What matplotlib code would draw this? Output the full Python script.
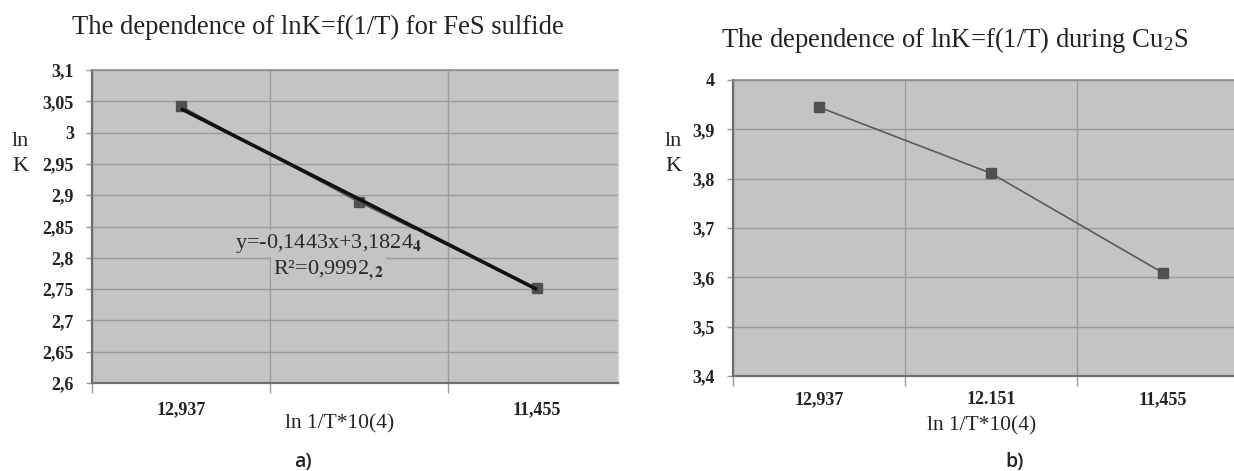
import matplotlib
matplotlib.use("Agg")
import matplotlib.pyplot as plt
from matplotlib.ticker import FixedLocator, NullFormatter

plt.rcParams["font.family"] = ["Liberation Serif", "DejaVu Serif"]
plt.rcParams["mathtext.fontset"] = "stix"

# FeS sulfide
fes_cats = ["12,937", "", "11,455"]
fes_lnk = [3.042, 2.889, 2.751]
fes_fit_slope = -0.1443
fes_fit_icpt = 3.1824
fes_yticks = [2.6, 2.65, 2.7, 2.75, 2.8, 2.85, 2.9, 2.95, 3.0, 3.05, 3.1]
fes_yticklabels = ["2,6", "2,65", "2,7", "2,75", "2,8", "2,85", "2,9", "2,95", "3", "3,05", "3,1"]

# Cu2S sulfide
cu_cats = ["12,937", "12.151", "11,455"]
cu_lnk = [3.945, 3.811, 3.609]
cu_yticks = [3.4, 3.5, 3.6, 3.7, 3.8, 3.9, 4.0]
cu_yticklabels = ["3,4", "3,5", "3,6", "3,7", "3,8", "3,9", "4"]

W, H = 1234, 471
fig = plt.figure(figsize=(W / 100, H / 100), dpi=100)

BG = "#c3c4c6"
GRID = "#9a9b9d"
AXIS = "#6e6e6e"
MARK = "#505052"
TXT = "#222222"


def px_axes(left, top, right, bottom):
    return fig.add_axes([left / W, (H - bottom) / H, (right - left) / W, (bottom - top) / H])


def style(ax, cats, yticks, ylabels, xmax, xpad):
    n = len(cats)
    ax.set_facecolor(BG)
    ax.set_xlim(0.5, xmax)
    ax.set_ylim(yticks[0], yticks[-1])
    ax.set_yticks(yticks)
    ax.set_yticklabels(ylabels, fontweight="bold", fontsize=13, color=TXT)
    pos = [i + 1 for i in range(n) if cats[i]]
    ax.xaxis.set_major_locator(FixedLocator(pos))
    ax.set_xticklabels([c for c in cats if c], fontweight="bold", fontsize=13, color=TXT)
    ax.xaxis.set_minor_locator(FixedLocator([i + 0.5 for i in range(n + 1)]))
    ax.xaxis.set_minor_formatter(NullFormatter())
    ax.tick_params(axis="x", which="major", length=0, pad=xpad)
    ax.tick_params(axis="x", which="minor", length=7, color=GRID, width=1)
    ax.tick_params(axis="y", which="major", length=4, color=GRID, width=1, pad=9)
    ax.grid(True, axis="y", which="major", color=GRID, linewidth=1)
    ax.grid(True, axis="x", which="minor", color=GRID, linewidth=1)
    ax.set_axisbelow(True)
    for s in ("left", "bottom"):
        ax.spines[s].set_color(AXIS)
        ax.spines[s].set_linewidth(1.6)
    ax.spines["top"].set_color("#8c8d8f")
    ax.spines["top"].set_linewidth(1.2)
    ax.spines["right"].set_color("#d6d7d9")
    ax.spines["right"].set_linewidth(1)


def ln_k_label(x, y_ln, y_k):
    fig.text(x / W, 1 - y_ln / H, "ln", fontsize=16, ha="center", va="center", color=TXT)
    fig.text(x / W, 1 - y_k / H, "K", fontsize=16, ha="center", va="center", color=TXT)


# ---- a) FeS ----
ax1 = px_axes(92, 70, 618, 383)
style(ax1, fes_cats, fes_yticks, fes_yticklabels, 0.5 + 526 / 178, 13)
x1 = list(range(1, len(fes_lnk) + 1))
ax1.plot(x1, fes_lnk, color="#5a5a5c", linewidth=1.2, marker="s", markersize=7,
         markerfacecolor=MARK, markeredgecolor=MARK, zorder=3)
fit_x = [x1[0], x1[-1]]
fit_y = [fes_fit_slope * v + fes_fit_icpt for v in fit_x]
ax1.plot(fit_x, fit_y, color="#111111", linewidth=2.6, zorder=6, solid_capstyle="butt")
ax1.text(1.83, 2.823, "y=-0,1443x+3,1824$_\\mathbf{4}$", fontsize=16, ha="center", va="center",
         color="#2a2a2a", zorder=5,
         bbox=dict(facecolor=BG, edgecolor="none", pad=1.5))
ax1.text(1.83, 2.780, "R²=0,9992$_\\mathbf{,2}$", fontsize=16, ha="center", va="center",
         color="#2a2a2a", zorder=5,
         bbox=dict(facecolor=BG, edgecolor="none", pad=1.5))

fig.text(318 / W, 1 - 27 / H, "The dependence of lnK=f(1/T) for FeS sulfide",
         fontsize=19.2, ha="center", va="center", color=TXT)
ln_k_label(20, 142, 167)
fig.text(340 / W, 1 - 424 / H, "ln 1/T*10(4)", fontsize=15.5, ha="center", va="center",
         color=TXT)
fig.text(303 / W, 1 - 462 / H, "a)", fontsize=14, ha="center", va="center",
         family="Open Sans", fontweight="semibold", color=TXT)

# ---- b) Cu2S ----
ax2 = px_axes(733, 80, 1249, 376)
style(ax2, cu_cats, cu_yticks, cu_yticklabels, 3.5, 11)
x2 = list(range(1, len(cu_lnk) + 1))
ax2.plot(x2, cu_lnk, color="#5a5a5c", linewidth=1.2, marker="s", markersize=7,
         markerfacecolor=MARK, markeredgecolor=MARK, zorder=3)

fig.text(955 / W, 1 - 40 / H, "The dependence of lnK=f(1/T) during Cu$_\\mathregular{2}$S",
         fontsize=19.2, ha="center", va="center", color=TXT)
ln_k_label(673, 142, 167)
fig.text(982 / W, 1 - 426 / H, "ln 1/T*10(4)", fontsize=15.5, ha="center", va="center",
         color=TXT)
fig.text(1015 / W, 1 - 462 / H, "b)", fontsize=14, ha="center", va="center",
         family="Open Sans", fontweight="semibold", color=TXT)

fig.savefig("out.png", dpi=100, facecolor="white")
